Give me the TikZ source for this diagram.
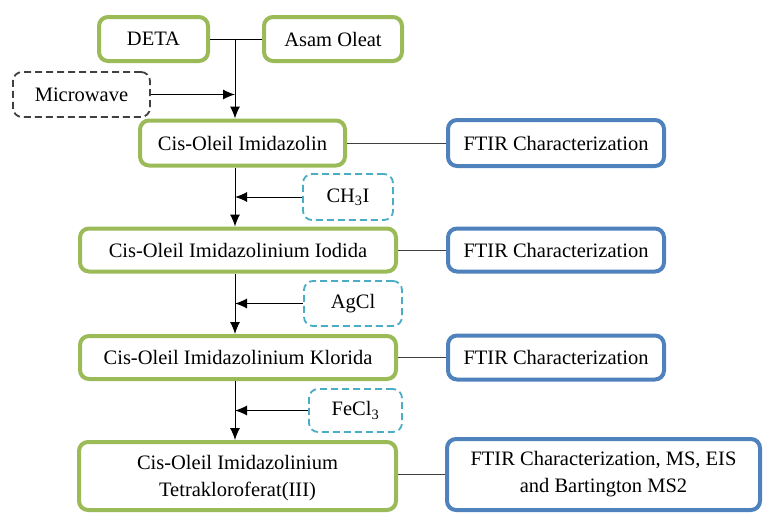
\documentclass[tikz,border=0pt]{standalone}
\usepackage{fontspec}
\setmainfont{Liberation Serif}
\usetikzlibrary{arrows.meta}
\definecolor{gbox}{HTML}{9BBB59}
\definecolor{bbox}{HTML}{4F81BD}
\definecolor{lbox}{HTML}{4BACC6}
\definecolor{mbox}{HTML}{404040}
\begin{document}
\begin{tikzpicture}[x=1pt,y=-1pt,
  base/.style={rounded corners=9pt, inner sep=0pt, align=center, font=\fontsize{20.5}{27}\selectfont, fill=white},
  gnode/.style={base, draw=gbox, line width=4pt},
  bnode/.style={base, draw=bbox, line width=4pt},
  rnode/.style={base, draw=lbox, line width=1.8pt, dash pattern=on 7pt off 4pt},
  mnode/.style={base, draw=mbox, line width=1.8pt, dash pattern=on 7pt off 4pt},
  conn/.style={line width=1pt, black},
  side/.style={line width=1pt, black!75},
  arr/.style={conn, -{Latex[length=12pt,width=10pt]}}
]
\useasboundingbox (0,0) rectangle (766,514);
% top
\node[gnode, minimum width=109pt, minimum height=44pt] (deta) at (153.5,39) {DETA};
\node[gnode, minimum width=138pt, minimum height=44pt] (asam) at (333,39) {Asam Oleat};
\node[mnode, minimum width=137pt, minimum height=45pt] (mw) at (81.5,94.5) {Microwave};
\node[gnode, minimum width=205pt, minimum height=45pt] (ci) at (242.5,143) {Cis-Oleil Imidazolin};
\node[bnode, minimum width=216pt, minimum height=46pt] (f1) at (556,143) {FTIR Characterization};
% second
\node[rnode, minimum width=90pt, minimum height=46pt] (ch) at (348,197) {CH\textsubscript{3}I};
\node[gnode, minimum width=316pt, minimum height=43pt] (io) at (238,250) {Cis-Oleil Imidazolinium Iodida};
\node[bnode, minimum width=216pt, minimum height=43pt] (f2) at (556,250) {FTIR Characterization};
% third
\node[rnode, minimum width=98pt, minimum height=45pt] (ag) at (353,303.5) {AgCl};
\node[gnode, minimum width=316pt, minimum height=43pt] (kl) at (238,357.5) {Cis-Oleil Imidazolinium Klorida};
\node[bnode, minimum width=216pt, minimum height=44pt] (f3) at (556,357.5) {FTIR Characterization};
% fourth
\node[rnode, minimum width=93pt, minimum height=43pt] (fe) at (355.5,410.5) {FeCl\textsubscript{3}};
\node[gnode, minimum width=317pt, minimum height=68pt, text depth=-2pt] (te) at (237.5,476) {Cis-Oleil Imidazolinium\\Tetrakloroferat(III)};
\node[bnode, minimum width=313pt, minimum height=71pt] (f4) at (603.5,474.5) {FTIR Characterization, MS, EIS\\and Bartington MS2};
% connectors
\coordinate (j) at (235,39);
\draw[conn] (deta.east) -- (asam.west);
\draw[arr] (j) -- (j |- ci.north);
\draw[arr] (mw.east) -- (mw.east -| j);
\draw[side] (ci.east) -- (f1.west);
\draw[side] (io.east) -- (f2.west);
\draw[side] (kl.east) -- (f3.west);
\draw[side] (f4.west -| te.east) -- (f4.west);
\draw[arr] (ci.south -| j) -- (io.north -| j);
\draw[arr] (ch.west) -- (ch.west -| j);
\draw[arr] (io.south -| j) -- (kl.north -| j);
\draw[arr] (ag.west) -- (ag.west -| j);
\draw[arr] (kl.south -| j) -- (te.north -| j);
\draw[arr] (fe.west) -- (fe.west -| j);
\end{tikzpicture}
\end{document}
